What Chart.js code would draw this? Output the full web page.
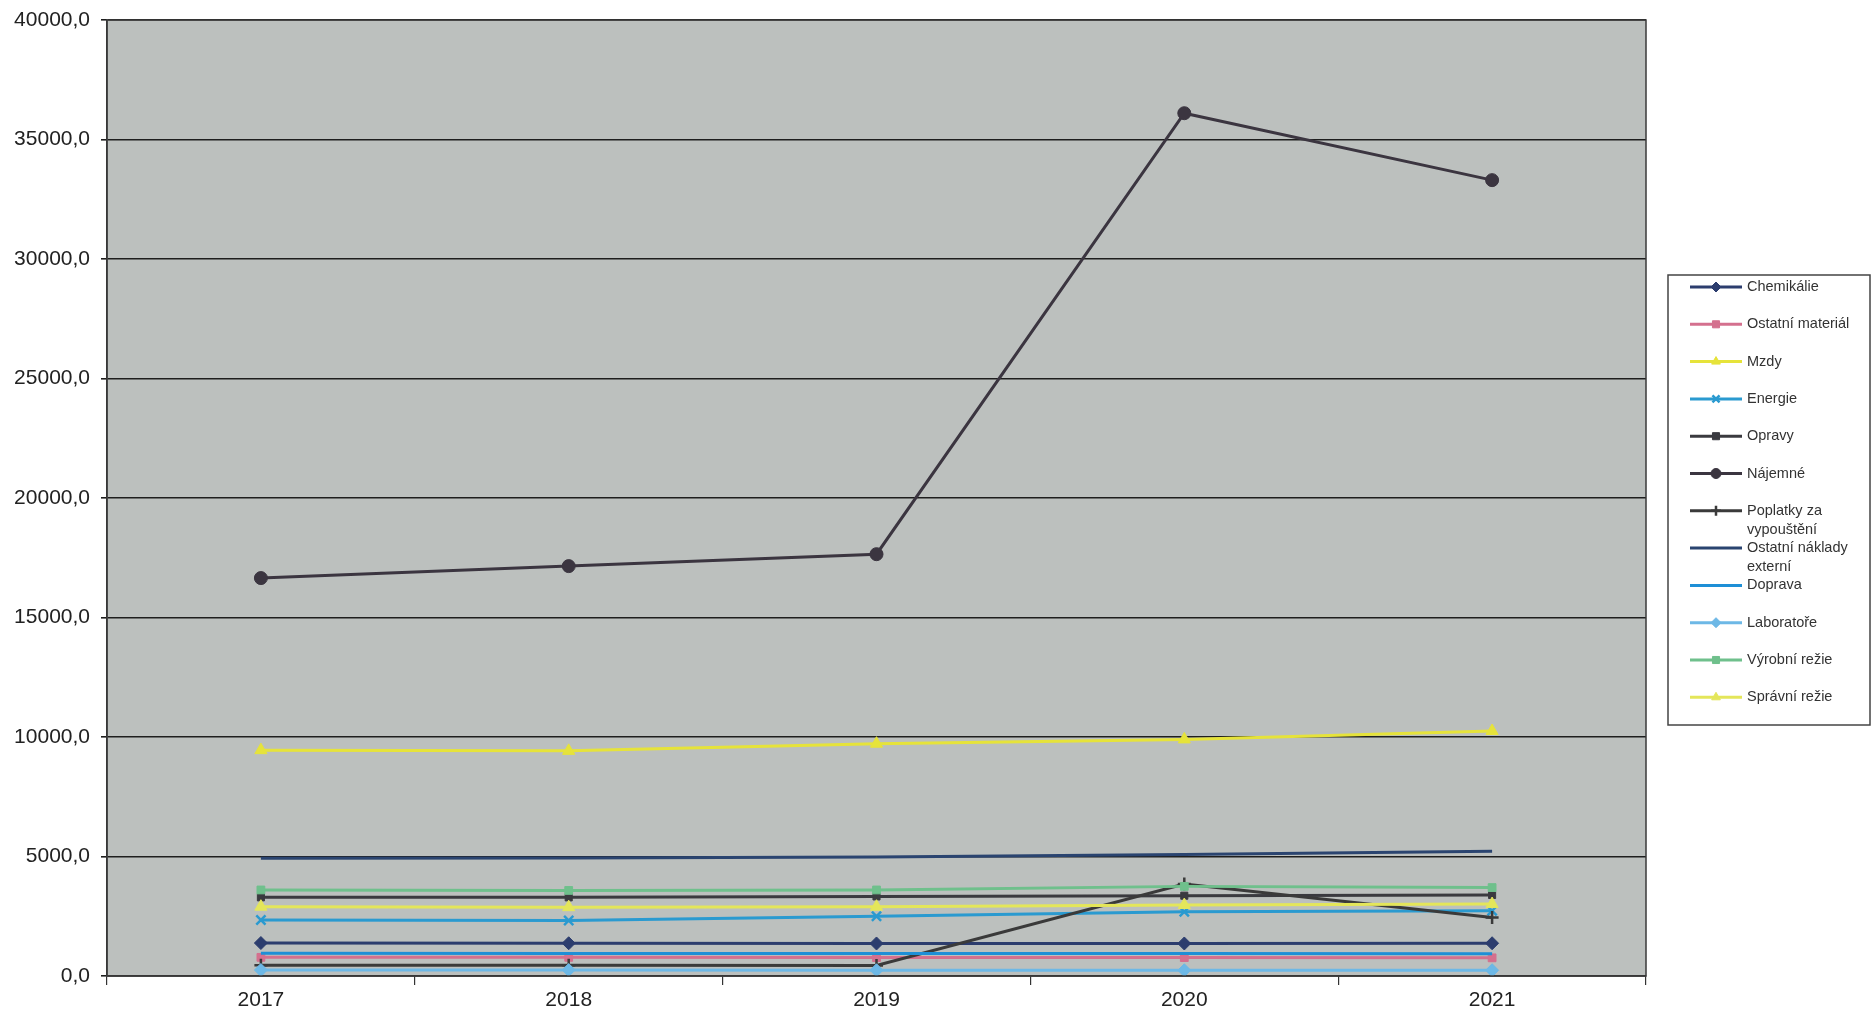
<!DOCTYPE html>
<html>
<head>
<meta charset="utf-8">
<script src="https://cdn.jsdelivr.net/npm/chart.js@4"></script>
<style>
html,body{margin:0;padding:0;background:#fff;}
#wrap{width:1873px;height:1024px;}
</style>
</head>
<body>
<div id="wrap"><canvas id="c" width="1873" height="1024"></canvas></div>
<script>
const categories = ['2017', '2018', '2019', '2020', '2021'];

const chemikalie        = [1380, 1370, 1360, 1360, 1370];
const ostatniMaterial   = [780, 780, 770, 770, 760];
const mzdy              = [9450, 9420, 9720, 9900, 10250];
const energie           = [2340, 2320, 2500, 2690, 2730];
const opravy            = [3290, 3290, 3330, 3360, 3390];
const najemne           = [16650, 17150, 17650, 36100, 33300];
const poplatky          = [450, 450, 440, 3850, 2450];
const ostatniNaklady    = [4930, 4940, 4980, 5080, 5220];
const doprava           = [950, 940, 940, 940, 930];
const laboratore        = [250, 250, 240, 240, 240];
const vyrobniRezie      = [3600, 3580, 3600, 3750, 3700];
const spravniRezie      = [2900, 2880, 2900, 2970, 3010];

const seriesNames = ['Chemikálie', 'Ostatní materiál', 'Mzdy', 'Energie', 'Opravy', 'Nájemné',
  'Poplatky za vypouštění', 'Ostatní náklady externí', 'Doprava', 'Laboratoře', 'Výrobní režie', 'Správní režie'];
const seriesValues = [chemikalie, ostatniMaterial, mzdy, energie, opravy, najemne,
  poplatky, ostatniNaklady, doprava, laboratore, vyrobniRezie, spravniRezie];

const yMin = 0, yMax = 40000, yStep = 5000;

// styles
const colors = ['#2c3d6e', '#d4708e', '#e6e33a', '#2a9ad0', '#3a3a3f', '#3b3540',
  '#3a3a3a', '#2a4470', '#1e8fd6', '#6db8e6', '#6fc08c', '#e4e65a'];
const pStyles = ['rectRot', 'rect', 'triangle', 'crossRot', 'rect', 'circle',
  'cross', 'line', 'line', 'rectRot', 'rect', 'triangle'];
const pRadius = [6.5, 5.5, 7, 6.5, 5, 6.5, 6.5, 0, 0, 6.5, 5.5, 7];

const datasets = seriesValues.map((vals, i) => ({
  label: seriesNames[i],
  data: vals,
  borderColor: colors[i],
  backgroundColor: colors[i],
  pointBackgroundColor: colors[i],
  pointBorderColor: colors[i],
  pointStyle: pStyles[i],
  pointRadius: pRadius[i],
  pointBorderWidth: (pStyles[i] === 'cross' || pStyles[i] === 'crossRot') ? 2.5 : 1,
  borderWidth: 3,
  tension: 0,
  order: seriesNames.length - i
}));

const FONT = '"Liberation Sans", Arial, sans-serif';

const plotBg = {
  id: 'plotBg',
  beforeDraw(chart) {
    const {ctx, chartArea: a} = chart;
    ctx.save();
    ctx.fillStyle = '#bcc0be';
    ctx.fillRect(a.left, a.top, a.right - a.left, a.bottom - a.top);
    ctx.restore();
  },
  afterDatasetsDraw(chart) {
    const {ctx, chartArea: a} = chart;
    ctx.save();
    ctx.strokeStyle = '#3a3a3a';
    ctx.lineWidth = 1.5;
    ctx.strokeRect(a.left, a.top, a.right - a.left, a.bottom - a.top);
    ctx.restore();
  }
};

function wrapText(ctx, text, maxW) {
  const words = text.split(' ');
  const lines = [];
  let cur = '';
  for (const w of words) {
    const t = cur ? cur + ' ' + w : w;
    if (ctx.measureText(t).width > maxW && cur) { lines.push(cur); cur = w; }
    else cur = t;
  }
  if (cur) lines.push(cur);
  return lines;
}

const customLegend = {
  id: 'customLegend',
  afterDraw(chart) {
    const ctx = chart.ctx;
    const bx = 1668, by = 275, bw = 202, bh = 450;
    ctx.save();
    ctx.fillStyle = '#ffffff';
    ctx.fillRect(bx, by, bw, bh);
    ctx.strokeStyle = '#444';
    ctx.lineWidth = 1.5;
    ctx.strokeRect(bx, by, bw, bh);
    ctx.font = '14.5px ' + FONT;
    ctx.textBaseline = 'middle';
    ctx.textAlign = 'left';
    chart.data.datasets.forEach((ds, i) => {
      const y = 287 + i * 37.3;
      ctx.strokeStyle = ds.borderColor;
      ctx.lineWidth = 3;
      ctx.beginPath();
      ctx.moveTo(1690, y);
      ctx.lineTo(1742, y);
      ctx.stroke();
      if (ds.pointRadius > 0) {
        ctx.fillStyle = ds.pointBackgroundColor;
        ctx.strokeStyle = ds.pointBorderColor;
        ctx.lineWidth = ds.pointBorderWidth;
        Chart.helpers.drawPoint(ctx, {pointStyle: ds.pointStyle, radius: Math.min(5, ds.pointRadius), rotation: 0, borderWidth: ds.pointBorderWidth}, 1716, y);
      }
      ctx.fillStyle = '#333';
      const lines = wrapText(ctx, ds.label, 118);
      lines.forEach((ln, k) => ctx.fillText(ln, 1747, y + k * 19));
    });
    ctx.restore();
  }
};

new Chart(document.getElementById('c'), {
  type: 'line',
  data: { labels: categories, datasets },
  options: {
    responsive: false,
    animation: false,
    events: [],
    layout: { padding: { top: 20, right: 227, left: 0, bottom: 0 } },
    plugins: { legend: { display: false }, tooltip: { enabled: false } },
    scales: {
      x: {
        type: 'category',
        offset: true,
        grid: { offset: true, drawOnChartArea: false, drawTicks: true, tickLength: 9, color: '#333', lineWidth: 1.2 },
        border: { display: true, color: '#333', width: 1.5 },
        ticks: { color: '#222', font: { family: FONT, size: 21 }, padding: 3 },
        afterFit(s) { s.height = 48; }
      },
      y: {
        min: yMin, max: yMax,
        grid: { color: '#1e1e1e', lineWidth: 1.6, drawTicks: true, tickLength: 6 },
        border: { display: true, color: '#333', width: 1.5 },
        ticks: {
          stepSize: yStep,
          color: '#222',
          font: { family: FONT, size: 21, lineHeight: 1 },
          padding: 11,
          callback: v => v.toFixed(1).replace('.', ',')
        },
        afterFit(s) { s.width = 107; s.paddingTop = 0; s.paddingBottom = 0; }
      }
    }
  },
  plugins: [plotBg, customLegend]
});
</script>
</body>
</html>
